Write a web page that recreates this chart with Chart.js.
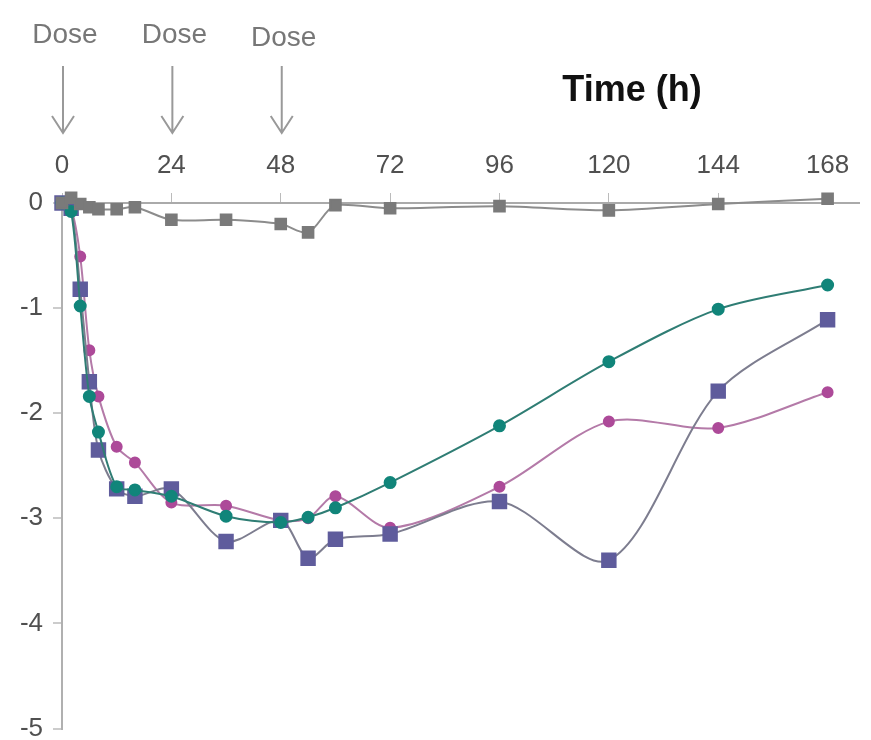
<!DOCTYPE html>
<html>
<head>
<meta charset="utf-8">
<script src="https://cdn.jsdelivr.net/npm/chart.js@4.4.1/dist/chart.umd.min.js"></script>
<style>
  html, body { margin: 0; padding: 0; background: #fff; }
  #wrap { width: 871px; height: 740px; }
</style>
</head>
<body>
<div id="wrap"><canvas id="grafico"></canvas></div>
<script>
const times = [0, 2, 4, 6, 8, 12, 16, 24, 36, 48, 54, 60, 72, 96, 120, 144, 168];

const serieCinza  = [0, 0.05, -0.01, -0.04, -0.06, -0.06, -0.04, -0.16, -0.16, -0.2, -0.28, -0.02, -0.05, -0.03, -0.07, -0.01, 0.04];
const serieVerde  = [0, -0.08, -0.98, -1.84, -2.18, -2.7, -2.73, -2.79, -2.98, -3.04, -2.99, -2.9, -2.66, -2.12, -1.51, -1.01, -0.78];
const serieRosa   = [0, -0.05, -0.51, -1.4, -1.84, -2.32, -2.47, -2.85, -2.88, -3.02, -3.0, -2.79, -3.09, -2.7, -2.08, -2.14, -1.8];
const serieRoxo   = [0, -0.05, -0.82, -1.7, -2.35, -2.72, -2.79, -2.72, -3.22, -3.02, -3.38, -3.2, -3.15, -2.84, -3.4, -1.79, -1.11];

const xTicks = [0, 24, 48, 72, 96, 120, 144, 168];
const doses = [0, 24, 48];

const pts = vals => vals.map((v, i) => ({ x: times[i], y: v }));

const FONT = "'Liberation Sans', Arial, sans-serif";

// Setas "Dose" e titulo do eixo
const anotacoes = {
  id: "anotacoes",
  afterDraw(chart) {
    const c = chart.ctx;
    const sx = chart.scales.x;
    c.save();
    doses.forEach((d, i) => {
      const px = sx.getPixelForValue(d) + 1;
      c.fillStyle = "#777";
      c.font = "28px " + FONT;
      c.textAlign = "center";
      c.textBaseline = "alphabetic";
      c.fillText("Dose", px + 2, i === 2 ? 46 : 43);
      c.strokeStyle = "#999";
      c.lineWidth = 2;
      c.beginPath();
      c.moveTo(px, 66);
      c.lineTo(px, 133);
      c.moveTo(px - 11, 116);
      c.lineTo(px, 133);
      c.lineTo(px + 11, 116);
      c.stroke();
    });
    c.fillStyle = "#111";
    c.font = "bold 36px " + FONT;
    c.textAlign = "center";
    c.fillText("Time (h)", 632, 101);
    c.restore();
  }
};

const ctx = document.getElementById("grafico").getContext("2d");

// ordem: o primeiro dataset fica por cima
new Chart(ctx, {
  type: "line",
  data: {
    datasets: [
      {
        label: "Controle",
        data: pts(serieCinza),
        borderColor: "#8c8c8c",
        backgroundColor: "#7a7a7a",
        pointBorderColor: "#7a7a7a",
        pointStyle: "rect",
        pointRadius: 7.5,
        borderWidth: 2,
        tension: 0.3,
        clip: false
      },
      {
        label: "Verde",
        data: pts(serieVerde),
        borderColor: "#2f7d74",
        backgroundColor: "#11857a",
        pointBorderColor: "#11857a",
        pointStyle: "circle",
        pointRadius: 5.5,
        borderWidth: 2,
        tension: 0.3,
        clip: false
      },
      {
        label: "Roxo",
        data: pts(serieRoxo),
        borderColor: "#7d7d8f",
        backgroundColor: "#5f5c9c",
        pointBorderColor: "#5f5c9c",
        pointStyle: "rect",
        pointRadius: 9.5,
        borderWidth: 2,
        tension: 0.3,
        clip: false
      },
      {
        label: "Rosa",
        data: pts(serieRosa),
        borderColor: "#b47aa8",
        backgroundColor: "#ad4a99",
        pointBorderColor: "#ad4a99",
        pointStyle: "circle",
        pointRadius: 5,
        borderWidth: 2,
        tension: 0.3,
        clip: false
      }
    ]
  },
  options: {
    responsive: true,
    maintainAspectRatio: false,
    animation: false,
    layout: { padding: { top: 0, left: 0, right: 0, bottom: 7 } },
    plugins: {
      legend: { display: false },
      tooltip: { enabled: false }
    },
    scales: {
      x: {
        type: "linear",
        position: "top",
        min: 0,
        max: 175,
        afterFit(s) { s.height = 203; s.paddingRight = 0; },
        afterBuildTicks(s) { s.ticks = xTicks.map(v => ({ value: v })); },
        ticks: {
          color: "#505050",
          font: { family: FONT, size: 26 },
          padding: 12
        },
        grid: { drawOnChartArea: false, tickLength: 10, color: "#bbb", lineWidth: 1 },
        border: { color: "#aaa", width: 2 }
      },
      y: {
        min: -5,
        max: 0,
        afterFit(s) { s.width = 62; s.paddingTop = 0; s.paddingBottom = 0; },
        ticks: {
          stepSize: 1,
          color: "#505050",
          font: { family: FONT, size: 26 },
          padding: 10
        },
        grid: { drawOnChartArea: false, tickLength: 9, color: "#ccc", lineWidth: 2 },
        border: { color: "#b0b0b0", width: 2 }
      }
    }
  },
  plugins: [anotacoes]
});
</script>
</body>
</html>
